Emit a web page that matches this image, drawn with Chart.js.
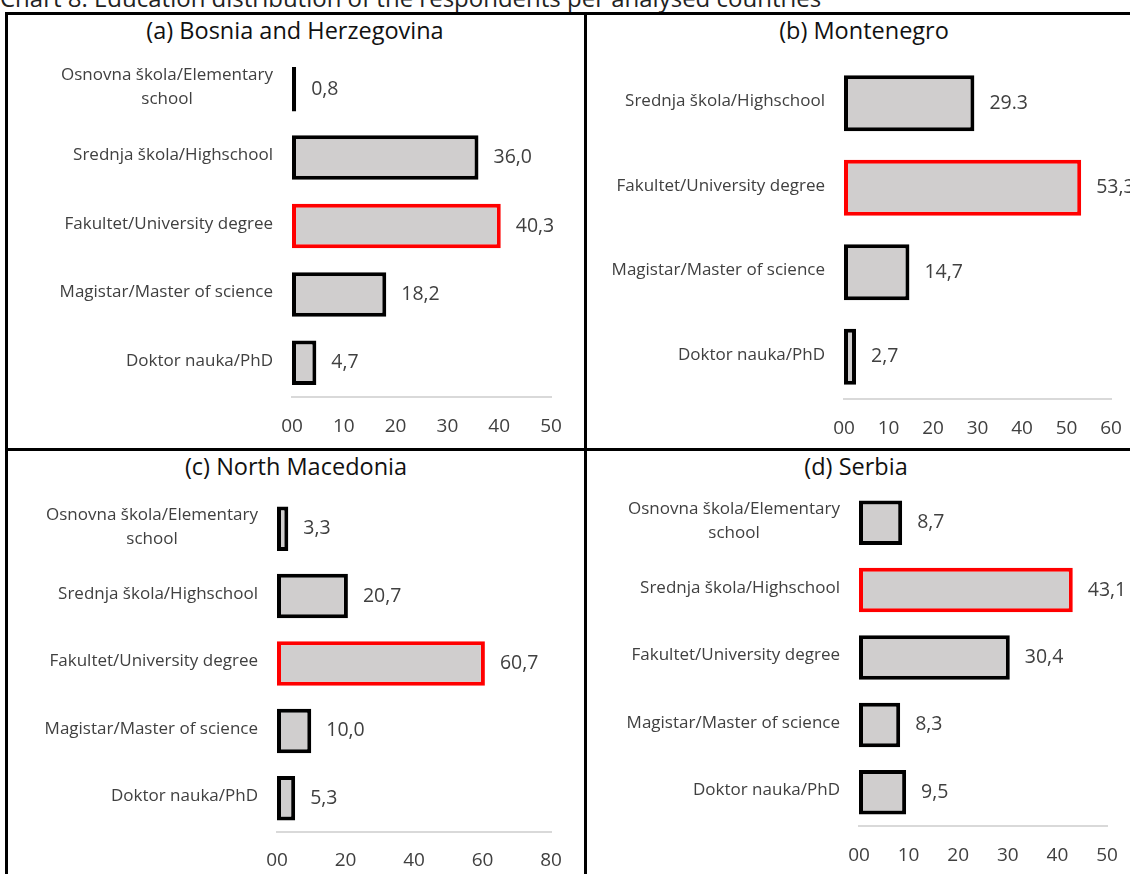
<!DOCTYPE html>
<html><head><meta charset="utf-8">
<script src="https://cdn.jsdelivr.net/npm/chart.js@4.4.0/dist/chart.umd.min.js"></script>
<style>
body{margin:0;width:1130px;height:874px;overflow:hidden;background:#fff;font-family:"Open Sans",sans-serif;position:relative}
canvas{position:absolute}
.ln{position:absolute;background:#000}
.t{position:absolute;font-size:23.5px;color:#111;transform:translateX(-50%);white-space:nowrap;line-height:26px}
#mt{position:absolute;left:0;top:-14px;font-size:24px;line-height:24px;color:#222;white-space:nowrap}
</style></head><body>
<div id="mt">Chart 8. Education distribution of the respondents per analysed countries</div>
<div class="ln" style="left:5px;top:12px;width:1125px;height:3px"></div>
<div class="ln" style="left:5px;top:12px;width:3px;height:862px"></div>
<div class="ln" style="left:584px;top:12px;width:3px;height:862px"></div>
<div class="ln" style="left:5px;top:448px;width:1125px;height:3px"></div>
<div class="t" id="ta" style="left:295px;top:17px"></div>
<div class="t" id="tb" style="left:864px;top:17px"></div>
<div class="t" id="tc" style="left:296px;top:453px"></div>
<div class="t" id="td" style="left:856px;top:453px"></div>
<canvas id="ca" width="576" height="433" style="left:8px;top:15px"></canvas>
<canvas id="cb" width="560" height="433" style="left:587px;top:15px"></canvas>
<canvas id="cc" width="576" height="423" style="left:8px;top:451px"></canvas>
<canvas id="cd" width="560" height="423" style="left:587px;top:451px"></canvas>
<script>
// ---- data ----
const titleBH = "(a) Bosnia and Herzegovina";
const catsBH = [["Osnovna škola/Elementary","school"],"Srednja škola/Highschool","Fakultet/University degree","Magistar/Master of science","Doktor nauka/PhD"];
const valsBH = [0.8, 36.0, 40.3, 18.2, 4.7];
const lblsBH = ["0,8","36,0","40,3","18,2","4,7"];
const ticksBH = [0,10,20,30,40,50];

const titleME = "(b) Montenegro";
const catsME = ["Srednja škola/Highschool","Fakultet/University degree","Magistar/Master of science","Doktor nauka/PhD"];
const valsME = [29.3, 53.3, 14.7, 2.7];
const lblsME = ["29.3","53,3","14,7","2,7"];
const ticksME = [0,10,20,30,40,50,60];

const titleMK = "(c) North Macedonia";
const catsMK = [["Osnovna škola/Elementary","school"],"Srednja škola/Highschool","Fakultet/University degree","Magistar/Master of science","Doktor nauka/PhD"];
const valsMK = [3.3, 20.7, 60.7, 10.0, 5.3];
const lblsMK = ["3,3","20,7","60,7","10,0","5,3"];
const ticksMK = [0,20,40,60,80];

const titleRS = "(d) Serbia";
const catsRS = [["Osnovna škola/Elementary","school"],"Srednja škola/Highschool","Fakultet/University degree","Magistar/Master of science","Doktor nauka/PhD"];
const valsRS = [8.7, 43.1, 30.4, 8.3, 9.5];
const lblsRS = ["8,7","43,1","30,4","8,3","9,5"];
const ticksRS = [0,10,20,30,40,50];

// ---- style ----
const FONT = '"Open Sans", sans-serif';
const TXT = '#404040';
const labelPlugin = {
  id: 'lbls',
  afterDraw(chart, args, o) {
    const ctx = chart.ctx, ys = chart.scales.y, xs = chart.scales.x;
    ctx.save();
    ctx.fillStyle = TXT;
    ctx.textBaseline = 'middle';
    ctx.font = '17px ' + FONT;
    o.cats.forEach((c, i) => {
      const lines = Array.isArray(c) ? c : [c];
      const y = ys.getPixelForValue(i);
      const w = Math.max(...lines.map(l => ctx.measureText(l).width));
      const cx = chart.chartArea.left - 19 - w / 2;
      ctx.textAlign = 'center';
      lines.forEach((l, j) => ctx.fillText(l, cx, y - 2 + (j - (lines.length - 1) / 2) * 24));
    });
    ctx.font = '19.5px ' + FONT;
    ctx.textAlign = 'left';
    o.vals.forEach((v, i) => ctx.fillText(o.lbls[i], xs.getPixelForValue(v) + 15, ys.getPixelForValue(i)));
    ctx.restore();
  }
};

function make(id, titleId, title, cats, vals, lbls, ticks, pad, axisH, barPct, tickPad) {
  document.getElementById(titleId).textContent = title;
  const maxV = Math.max(...vals);
  new Chart(document.getElementById(id), {
    type: 'bar',
    data: {
      labels: cats.map(c => Array.isArray(c) ? c.join(' ') : c),
      datasets: [{
        data: vals,
        backgroundColor: '#d0cece',
        borderColor: vals.map(v => v === maxV ? '#ff0000' : '#000000'),
        borderWidth: 4,
        borderSkipped: false,
        categoryPercentage: 1,
        barPercentage: barPct
      }]
    },
    options: {
      indexAxis: 'y',
      responsive: false,
      animation: false,
      events: [],
      layout: { padding: pad },
      plugins: { legend: { display: false }, tooltip: { enabled: false }, lbls: { cats, vals, lbls } },
      scales: {
        y: { display: false, offset: true },
        x: {
          min: ticks[0], max: ticks[ticks.length - 1],
          afterBuildTicks: s => { s.ticks = ticks.map(v => ({ value: v })); },
          afterFit: s => { s.height = axisH; },
          grid: { display: false, drawTicks: false },
          border: { display: true, color: '#d9d9d9', width: 2 },
          ticks: { padding: tickPad, color: TXT, font: { family: FONT, size: 19 }, maxRotation: 0,
                   callback: v => v === 0 ? '00' : String(v) }
        }
      }
    },
    plugins: [labelPlugin]
  });
}

make('ca', 'ta', titleBH, catsBH, valsBH, lblsBH, ticksBH, { left: 284, right: 33, top: 40, bottom: 0 }, 51, 0.65, 18);
make('cb', 'tb', titleME, catsME, valsME, lblsME, ticksME, { left: 257, right: 36, top: 46, bottom: 0 }, 49, 0.66, 18);
make('cc', 'tc', titleMK, catsMK, valsMK, lblsMK, ticksMK, { left: 269, right: 33, top: 44, bottom: 0 }, 42, 0.66, 17);
make('cd', 'td', titleRS, catsRS, valsRS, lblsRS, ticksRS, { left: 272, right: 40, top: 38, bottom: 0 }, 48, 0.66, 18);
</script>
</body></html>
